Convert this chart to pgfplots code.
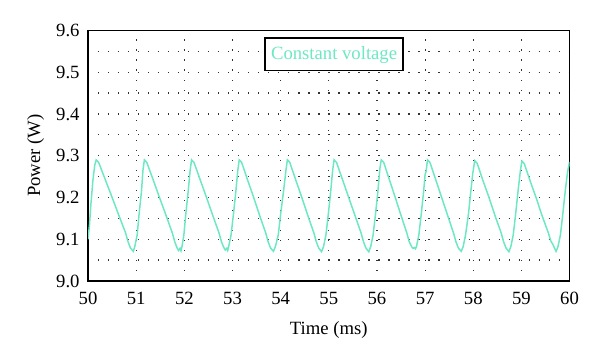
\documentclass[border=0pt]{standalone}
\usepackage{fontspec}
\setmainfont{Liberation Serif}
\usepackage{pgfplots}
\pgfplotsset{compat=1.18}
\definecolor{cv}{RGB}{110,232,196}
\pgfplotstableread{
t P
50.00 9.100
50.03 9.135
50.06 9.185
50.10 9.240
50.14 9.278
50.17 9.290
50.22 9.284
50.36 9.242
50.50 9.200
50.64 9.157
50.78 9.115
50.83 9.094
50.88 9.079
50.94 9.071
50.97 9.082
51.02 9.110
51.06 9.160
51.11 9.215
51.14 9.265
51.17 9.290
51.22 9.284
51.35 9.243
51.48 9.201
51.62 9.157
51.75 9.115
51.80 9.094
51.85 9.079
51.88 9.073
51.91 9.078
51.93 9.072
51.95 9.082
51.99 9.110
52.03 9.160
52.08 9.215
52.12 9.265
52.15 9.290
52.20 9.284
52.33 9.242
52.46 9.200
52.59 9.157
52.72 9.115
52.77 9.094
52.82 9.080
52.85 9.074
52.88 9.078
52.90 9.073
52.92 9.082
52.97 9.110
53.02 9.160
53.07 9.215
53.11 9.265
53.14 9.290
53.19 9.284
53.31 9.243
53.44 9.200
53.56 9.158
53.69 9.115
53.74 9.094
53.79 9.079
53.85 9.071
53.89 9.082
53.95 9.110
54.00 9.160
54.06 9.215
54.11 9.265
54.14 9.290
54.19 9.284
54.31 9.243
54.44 9.200
54.56 9.158
54.69 9.115
54.74 9.094
54.79 9.079
54.85 9.070
54.89 9.082
54.94 9.110
54.99 9.160
55.04 9.215
55.08 9.265
55.11 9.290
55.16 9.284
55.29 9.241
55.41 9.201
55.54 9.158
55.67 9.115
55.72 9.094
55.77 9.079
55.83 9.070
55.87 9.082
55.92 9.110
55.97 9.160
56.02 9.215
56.06 9.268
56.07 9.276
56.09 9.290
56.14 9.284
56.26 9.242
56.38 9.200
56.50 9.157
56.62 9.115
56.67 9.094
56.72 9.082
56.75 9.078
56.78 9.080
56.80 9.077
56.82 9.082
56.87 9.110
56.92 9.160
56.97 9.215
57.00 9.255
57.02 9.262
57.05 9.290
57.10 9.284
57.22 9.243
57.35 9.198
57.47 9.156
57.59 9.115
57.64 9.094
57.69 9.079
57.75 9.071
57.79 9.082
57.84 9.110
57.90 9.160
57.95 9.215
57.99 9.258
58.00 9.265
58.03 9.288
58.08 9.282
58.20 9.241
58.33 9.199
58.45 9.157
58.58 9.115
58.63 9.094
58.68 9.079
58.74 9.070
58.78 9.082
58.83 9.110
58.88 9.160
58.93 9.215
58.98 9.265
59.01 9.287
59.06 9.281
59.18 9.240
59.31 9.198
59.43 9.156
59.56 9.115
59.61 9.096
59.66 9.086
59.69 9.078
59.72 9.071
59.76 9.082
59.81 9.110
59.86 9.160
59.91 9.215
59.96 9.262
60.00 9.285
}\datatable
\begin{document}
\fontsize{12}{14}\selectfont
\begin{tikzpicture}
\useasboundingbox (-58.7bp,-54.7bp) rectangle (341.3bp,187.3bp);
\begin{axis}[
  scale only axis, width=321bp, height=167bp,
  at={(0,0)}, anchor=south west,
  xmin=50, xmax=60, ymin=9.0, ymax=9.6,
  xtick={50,51,52,53,54,55,56,57,58,59,60},
  ytick={9.0,9.1,9.2,9.3,9.4,9.5,9.6},
  minor ytick={9.05,9.15,9.25,9.35,9.45,9.55},
  yticklabel style={xshift=-1.5bp, /pgf/number format/.cd,fixed,fixed zerofill,precision=1},
  xticklabel style={yshift=-3.5bp},
  /pgf/number format/assume math mode=true,
  tick label style={font=\fontsize{12.5}{14}\selectfont},
  major tick length=0pt, minor tick length=0pt,
  grid=both,
  major grid style={black!80, line width=0.8pt, dash pattern=on 0.8pt off 5.9pt},
  minor grid style={black!80, line width=0.8pt, dash pattern=on 0.8pt off 5.9pt},
  axis line style={black, line width=0.9pt},
  xlabel={Time (ms)}, ylabel={Power (W)},
  every axis x label/.style={at={(axis description cs:0.5,0)}, anchor=center, yshift=-32.7bp, font=\fontsize{12.5}{14}\selectfont},
  every axis y label/.style={at={(axis description cs:0,0.5)}, anchor=center, xshift=-35bp, rotate=90, font=\fontsize{12.5}{14}\selectfont},
  legend image code/.code={},
  legend style={at={(axis description cs:0.511,0.972)}, anchor=north, draw=black, line width=0.9pt, text=cv, font=\fontsize{12.5}{14}\selectfont, inner xsep=2pt, inner ysep=3.5pt},
]
\addplot[cv, line width=1pt] table[x=t,y=P] {\datatable};
\addlegendentry{Constant voltage}
\end{axis}
\end{tikzpicture}
\end{document}
